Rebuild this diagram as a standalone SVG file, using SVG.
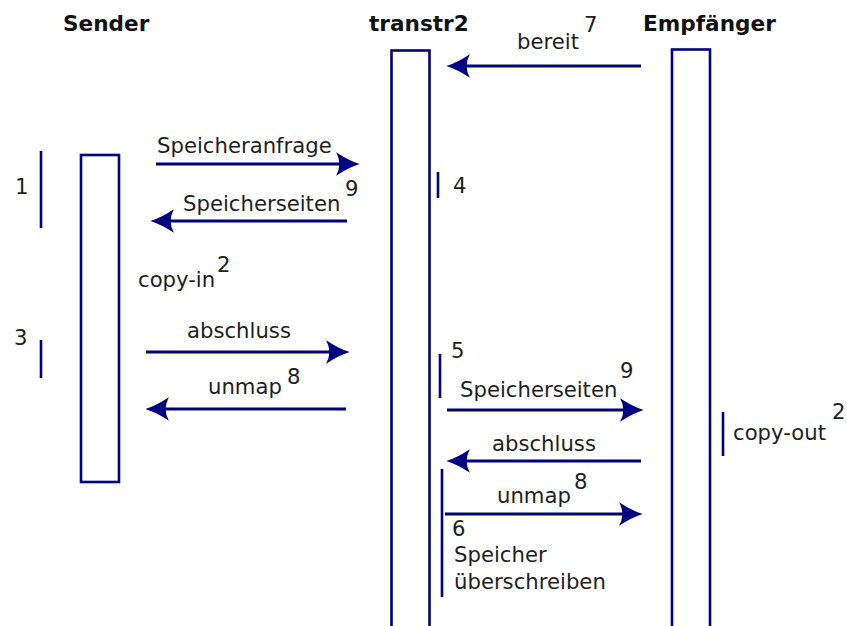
<svg xmlns="http://www.w3.org/2000/svg" width="847" height="626" viewBox="0 0 847 626">
  <style>
    .life { fill: none; stroke: #000080; stroke-width: 2.6; }
    .msg { stroke: #000080; stroke-width: 3; fill: none; marker-end: url(#head); }
    .mark { stroke: #000080; stroke-width: 2.6; }
    text { font-family: "DejaVu Sans", "Liberation Sans", sans-serif; font-size: 21.2px; fill: #1e1e1e; }
    .title { font-weight: bold; font-size: 21.6px; fill: #111; }
  </style>
  <defs>
    <marker id="head" markerUnits="userSpaceOnUse" markerWidth="30" markerHeight="30" viewBox="-14 -13 28 26" refX="0" refY="0" orient="auto" overflow="visible">
      <path d="M10,0 Q0,-3 -12,-11 Q-6,0 -12,11 Q0,3 10,0 Z" fill="#000080"/>
    </marker>
  </defs>

  <!-- lifelines -->
  <g id="sender">
    <rect class="life" x="81" y="155" width="38" height="327"/>
    <text class="title" x="63" y="31">Sender</text>
  </g>
  <g id="transtr2">
    <rect class="life" x="391.5" y="50.5" width="38" height="600"/>
    <text class="title" x="369" y="31">transtr2</text>
  </g>
  <g id="empfaenger">
    <rect class="life" x="672" y="49.5" width="38" height="600"/>
    <text class="title" x="643" y="31">Empfänger</text>
  </g>

  <!-- messages -->
  <g id="connectors">
    <line class="msg" x1="641" y1="66" x2="457" y2="66"/>
    <line class="msg" x1="156" y1="164" x2="349" y2="164"/>
    <line class="msg" x1="347" y1="221" x2="161" y2="221"/>
    <line class="msg" x1="146" y1="352" x2="339" y2="352"/>
    <line class="msg" x1="346" y1="409" x2="156" y2="409"/>
    <line class="msg" x1="447" y1="410" x2="633" y2="410"/>
    <line class="msg" x1="641" y1="461" x2="457" y2="461"/>
    <line class="msg" x1="445" y1="514" x2="632" y2="514"/>
  </g>

  <!-- step markers -->
  <g id="steps">
    <line class="mark" x1="41" y1="151" x2="41" y2="228"/>
    <line class="mark" x1="41" y1="340" x2="41" y2="378"/>
    <line class="mark" x1="438" y1="172" x2="438" y2="198"/>
    <line class="mark" x1="440" y1="354" x2="440" y2="398"/>
    <line class="mark" x1="442" y1="469" x2="442" y2="597"/>
    <line class="mark" x1="723" y1="412" x2="723" y2="456"/>
  </g>

  <!-- labels -->
  <g id="labels">
    <text x="517" y="49">bereit</text>
    <text x="584" y="32">7</text>
    <text x="157" y="153">Speicheranfrage</text>
    <text x="345" y="196">9</text>
    <text x="183" y="211">Speicherseiten</text>
    <text x="15" y="194">1</text>
    <text x="453" y="193">4</text>
    <text x="138" y="287">copy-in</text>
    <text x="217" y="272">2</text>
    <text x="187" y="338">abschluss</text>
    <text x="14" y="345">3</text>
    <text x="208" y="394">unmap</text>
    <text x="287" y="384">8</text>
    <text x="451" y="358">5</text>
    <text x="620" y="378">9</text>
    <text x="460" y="397">Speicherseiten</text>
    <text x="733" y="440">copy-out</text>
    <text x="832" y="419">2</text>
    <text x="492" y="451">abschluss</text>
    <text x="574" y="489">8</text>
    <text x="497" y="503">unmap</text>
    <text x="452" y="536">6</text>
    <text x="454" y="562">Speicher</text>
    <text x="454" y="589">überschreiben</text>
  </g>
</svg>
